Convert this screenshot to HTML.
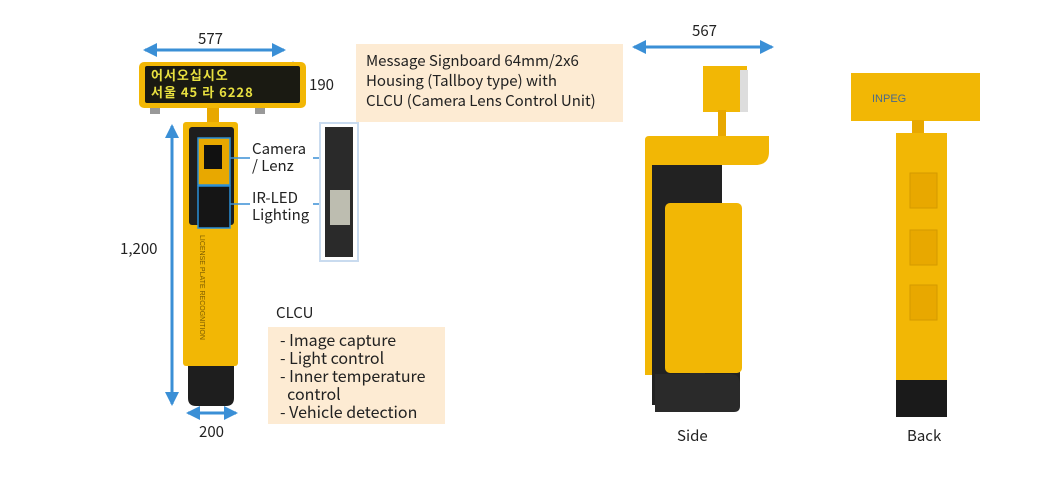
<!DOCTYPE html>
<html><head><meta charset="utf-8"><style>
body{margin:0;width:1060px;height:486px;background:#fff;position:relative;overflow:hidden;font-family:"Noto Sans CJK KR","Liberation Sans",sans-serif;color:#222}
.a{position:absolute}
.t{position:absolute;font-size:14px;line-height:17px;white-space:nowrap}
</style></head><body>
<svg class="a" style="left:0;top:0" width="1060" height="486">
<defs><marker id="ah" markerWidth="14" markerHeight="14" refX="12" refY="7" orient="auto-start-reverse" markerUnits="userSpaceOnUse"><path d="M0,0 L14,7 L0,14 z" fill="#3a8fd6"/></marker></defs>
<g stroke="#3a8fd6" stroke-width="3" fill="none" marker-start="url(#ah)" marker-end="url(#ah)">
<line x1="145" y1="50" x2="284" y2="50"/>
<line x1="293" y1="63" x2="293" y2="105"/>
<line x1="172" y1="126" x2="172" y2="404"/>
<line x1="188" y1="413" x2="236" y2="413"/>
<line x1="634" y1="47" x2="772" y2="47"/>
</g>
<rect x="139" y="62" width="167" height="46" rx="5" fill="#f2b705"/>
<rect x="145" y="66" width="155" height="37" rx="2" fill="#1a1a12"/>
<rect x="150" y="108" width="10" height="6" fill="#999"/><rect x="255" y="108" width="10" height="6" fill="#999"/>
<rect x="207" y="108" width="12" height="18" fill="#e8a800"/>
<rect x="183" y="122" width="55" height="244" rx="3" fill="#f2b705"/>
<rect x="189" y="127" width="45" height="98" rx="3" fill="#1e1e1e"/>
<rect x="198" y="138" width="32" height="47" fill="#e8a800" stroke="#2a8fd6" stroke-width="1.5"/>
<rect x="204" y="145" width="18" height="24" fill="#111"/>
<rect x="198" y="186" width="32" height="42" fill="#151515" stroke="#2a8fd6" stroke-width="1.5"/>
<text x="0" y="0" transform="translate(200,235) rotate(90)" font-size="7" fill="#7a5a00" font-family="Liberation Sans">LICENSE PLATE RECOGNITION</text>
<path d="M188,366 h46 v32 q0,8 -8,8 h-30 q-8,0 -8,-8z" fill="#1e1e1e"/>
<g stroke="#3a8fd6" stroke-width="1.5"><line x1="230" y1="158" x2="250" y2="158"/><line x1="313" y1="158" x2="340" y2="158"/><line x1="230" y1="204" x2="250" y2="204"/><line x1="313" y1="204" x2="335" y2="204"/></g>
<rect x="320" y="123" width="38" height="138" fill="#fff" stroke="#c9dbef" stroke-width="2"/>
<rect x="325" y="127" width="28" height="130" fill="#2a2a2a"/>
<rect x="330" y="190" width="20" height="35" fill="#bdbdb0"/>
<rect x="703" y="66" width="44" height="46" fill="#f2b705"/><rect x="740" y="70" width="8" height="42" fill="#ddd"/>
<rect x="718" y="110" width="8" height="28" fill="#e8a800"/>
<path d="M645,140 q0,-4 4,-4 h120 v16 q0,13 -14,13 h-110z" fill="#f2b705"/>
<rect x="645" y="140" width="12" height="235" fill="#f2b705"/>
<rect x="652" y="165" width="70" height="240" fill="#222"/>
<rect x="654" y="372" width="86" height="14" fill="#222"/>
<path d="M655,374 h35 v-20 h15 v20 h25 q10,0 10,10 v22 q0,6 -6,6 h-79z" fill="#2a2a2a"/>
<rect x="665" y="203" width="77" height="170" rx="5" fill="#f2b705"/>
<rect x="851" y="73" width="129" height="48" fill="#f2b705"/>
<text x="872" y="102" font-size="11" fill="#4b6a8a" font-family="Liberation Sans">INPEG</text>
<rect x="912" y="120" width="12" height="16" fill="#e8a800"/>
<rect x="896" y="133" width="51" height="250" fill="#f2b705"/>
<rect x="910" y="173" width="27" height="35" fill="#e8a800" stroke="#d49a00"/>
<rect x="910" y="230" width="27" height="35" fill="#e8a800" stroke="#d49a00"/>
<rect x="910" y="285" width="27" height="35" fill="#e8a800" stroke="#d49a00"/>
<rect x="896" y="380" width="51" height="37" fill="#1a1a1a"/>
</svg>
<div class="t" style="left:151px;top:66px;font-size:13px;color:#e8e040;font-weight:bold;letter-spacing:1px">어서오십시오</div>
<div class="t" style="left:151px;top:83px;font-size:13px;color:#e8e040;font-weight:bold;letter-spacing:1px">서울 45 라 6228</div>
<div class="t" style="left:198px;top:30px;font-size:15px">577</div>
<div class="t" style="left:309px;top:76px;font-size:15px">190</div>
<div class="t" style="left:120px;top:240px;font-size:15px">1,200</div>
<div class="t" style="left:199px;top:423px;font-size:15px">200</div>
<div class="t" style="left:692px;top:22px;font-size:15px">567</div>
<div class="t" style="left:252px;top:140px;font-size:15px">Camera<br>/ Lenz</div>
<div class="t" style="left:252px;top:189px;font-size:15px">IR-LED<br>Lighting</div>
<div class="a" style="left:356px;top:44px;width:267px;height:78px;background:#fdebd3"></div>
<div class="t" style="left:366px;top:51px;line-height:20px;font-size:15px">Message Signboard 64mm/2x6<br>Housing (Tallboy type) with<br>CLCU (Camera Lens Control Unit)</div>
<div class="t" style="left:276px;top:304px;font-size:15px">CLCU</div>
<div class="a" style="left:268px;top:327px;width:177px;height:97px;background:#fdebd3"></div>
<div class="t" style="left:280px;top:330px;font-size:16px;line-height:18px">- Image capture<br>- Light control<br>- Inner temperature<br>&nbsp;&nbsp;control<br>- Vehicle detection</div>
<div class="t" style="left:677px;top:427px;font-size:15px">Side</div>
<div class="t" style="left:907px;top:427px;font-size:15px">Back</div>
</body></html>
